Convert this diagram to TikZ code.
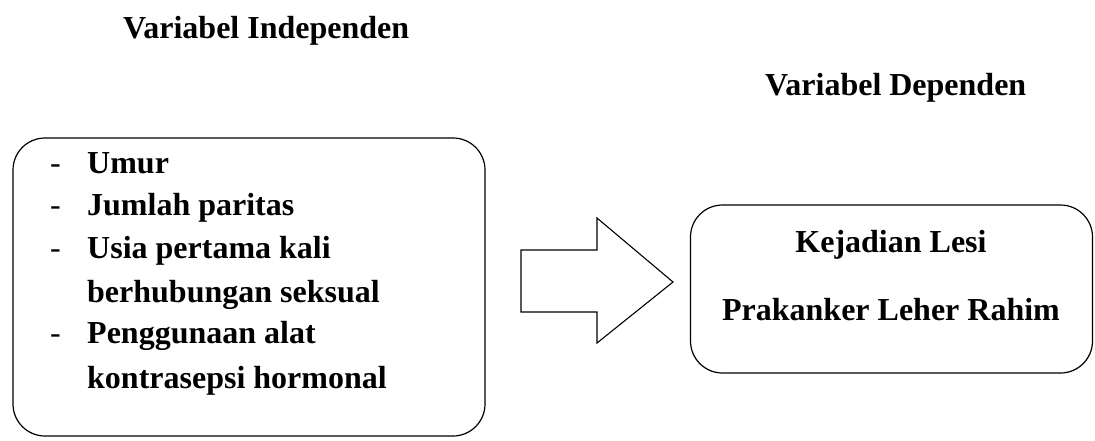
\documentclass[tikz,border=0pt]{standalone}
\usepackage{fontspec}
\setmainfont{Liberation Serif}
\begin{document}
\begin{tikzpicture}[x=1pt,y=-1pt,
  lbl/.style={anchor=base west,inner sep=0pt,font=\fontsize{32}{36}\selectfont\bfseries},
  clbl/.style={anchor=base,inner sep=0pt,font=\fontsize{32}{36}\selectfont\bfseries},
  bulletmark/.style={anchor=base west,inner sep=0pt,font=\fontsize{32}{36}\selectfont},
  roundbox/.style={draw,line width=1.2pt,rounded corners=32pt,inner sep=0pt}]
\useasboundingbox (0,0) rectangle (1095,440);

% headings
\node[lbl] (hind) at (123,38) {Variabel Independen};
\node[lbl] (hdep) at (765,95) {Variabel Dependen};

% independent variables box
\node[roundbox,minimum width=472pt,minimum height=298pt] (indbox) at (249,287) {};
\node[bulletmark] (d1) at (50,173) {-};
\node[lbl]  (t1) at (87,173) {Umur};
\node[bulletmark] (d2) at (50,215) {-};
\node[lbl]  (t2) at (87,215) {Jumlah paritas};
\node[bulletmark] (d3) at (50,258) {-};
\node[lbl]  (t3) at (87,258) {Usia pertama kali};
\node[lbl]  (t4) at (87,302) {berhubungan seksual};
\node[bulletmark] (d5) at (50,343) {-};
\node[lbl]  (t5) at (87,343) {Penggunaan alat};
\node[lbl]  (t6) at (87,388) {kontrasepsi hormonal};

% dependent variable box
\node[roundbox,minimum width=402pt,minimum height=168pt] (depbox) at (891.5,289) {};
\node[clbl] (k1) at (891,252) {Kejadian Lesi};
\node[clbl] (k2) at (891,320) {Prakanker Leher Rahim};

% block arrow between the two boxes
\draw[line width=1.1pt,line join=miter]
  (521,250) -- (597,250) -- (597,218) -- (673,282) -- (597,343) -- (597,312) -- (521,312) -- cycle;
\end{tikzpicture}
\end{document}
